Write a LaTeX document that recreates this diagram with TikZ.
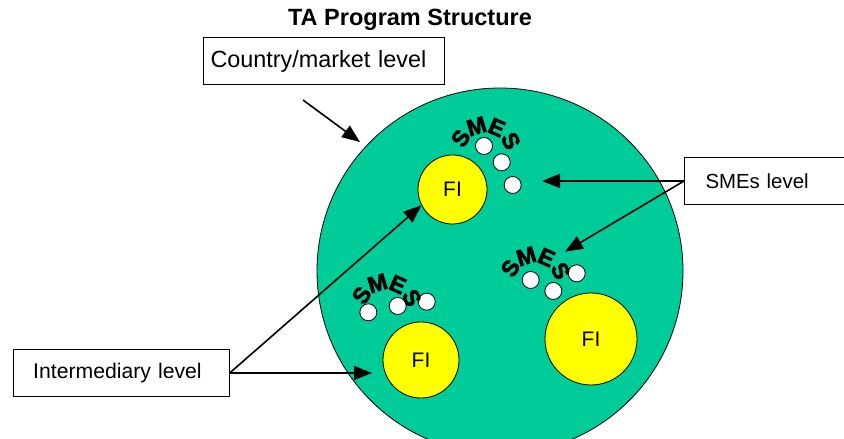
\documentclass[tikz,border=0pt]{standalone}
\usepackage{fontspec}
\setmainfont{Liberation Sans}
\newfontfamily\heavyfont[FakeBold=2.5]{Liberation Sans Bold}
\usepackage{xcolor}
\definecolor{market-green}{RGB}{0,204,153}
\definecolor{fi-yellow}{RGB}{255,255,0}
\usepackage{tikz}
\usetikzlibrary{arrows.meta,positioning}

\tikzset{
    levelbox/.style={draw=black, line width=1pt, fill=white, anchor=west,
        align=left, minimum height=47pt},
    fidisc/.style={circle, draw=black, line width=0.8pt, fill=fi-yellow,
        inner sep=0pt, font=\fontsize{21}{24}\selectfont},
    smedot/.style={circle, draw=black, line width=0.8pt, fill=white,
        inner sep=0pt, minimum size=17pt},
    smeletter/.style={inner sep=0pt, font=\fontsize{23}{24}\heavyfont},
    pointer/.style={line width=1.6pt, -{Triangle[length=18pt,width=14pt]}},
    smesarc/.pic={
        \foreach \ch/\ang [count=\i] in {S/147,M/107,E/66,S/27}
            \node[smeletter, rotate=\ang-90] (-l\i) at (\ang:29) {\ch};
    }
}

\begin{document}
\begin{tikzpicture}[x=1pt, y=1pt]

\useasboundingbox (0,0) rectangle (844,439);

% Title
\node[font=\fontsize{23.5}{26}\selectfont\bfseries] (title) at (410,419) {TA Program Structure};

% Market disc
\node[circle, draw=black, line width=0.8pt, fill=market-green, minimum size=366pt] (market) at (500,168) {};

% FI discs
\node[fidisc, minimum size=69pt] (fitop) at (452.5,249.5) {FI};
\node[fidisc, minimum size=76pt] (fileft) at (421,79) {FI};
\node[fidisc, minimum size=92pt] (firight) at (591,100) {FI};

% SME dots
\node[smedot] (topa) at (484,293) {};
\node[smedot] (topb) at (501.7,276.7) {};
\node[smedot] (topc) at (512.7,254) {};
\node[smedot] (mida) at (530.7,159) {};
\node[smedot] (midb) at (553.3,148) {};
\node[smedot] (midc) at (576.7,165.7) {};
\node[smedot] (lowa) at (368.3,126.7) {};
\node[smedot] (lowb) at (397.7,133) {};
\node[smedot] (lowc) at (426.7,137.3) {};

% SMES lettering
\pic (smestop) at (485,285) {smesarc};
\pic (smesmid) at (534.7,155) {smesarc};
\pic (smeslow) at (386,128) {smesarc};

% Level boxes
\node[levelbox, text width=227pt, inner xsep=7pt,
    font=\fontsize{23.4}{26}\selectfont] (country) at (203,377.5) {Country/market level};
\node[levelbox, text width=140pt, inner xsep=21pt,
    font=\fontsize{20.4}{24}\selectfont] (smes) at (684,258) {SMEs level};
\node[levelbox, text width=176pt, inner xsep=20pt,
    font=\fontsize{21.2}{24}\selectfont] (inter) at (12.7,66) {Intermediary level};

% Pointer ends
\coordinate (countrystart) at (303,339);
\coordinate (countrytip) at (360,297);
\coordinate (smetipa) at (542,258);
\coordinate (smetipb) at (565,187.3);
\coordinate (intertip) at (372,66);

% Pointers
\draw[pointer] (countrystart) -- (countrytip);
\draw[pointer] (smes.west) -- (smetipa);
\draw[pointer] (smes.west) -- (smetipb);
\draw[pointer] (inter.east) -- (fitop.207);
\draw[pointer] (inter.east) -- (intertip);

\end{tikzpicture}
\end{document}
